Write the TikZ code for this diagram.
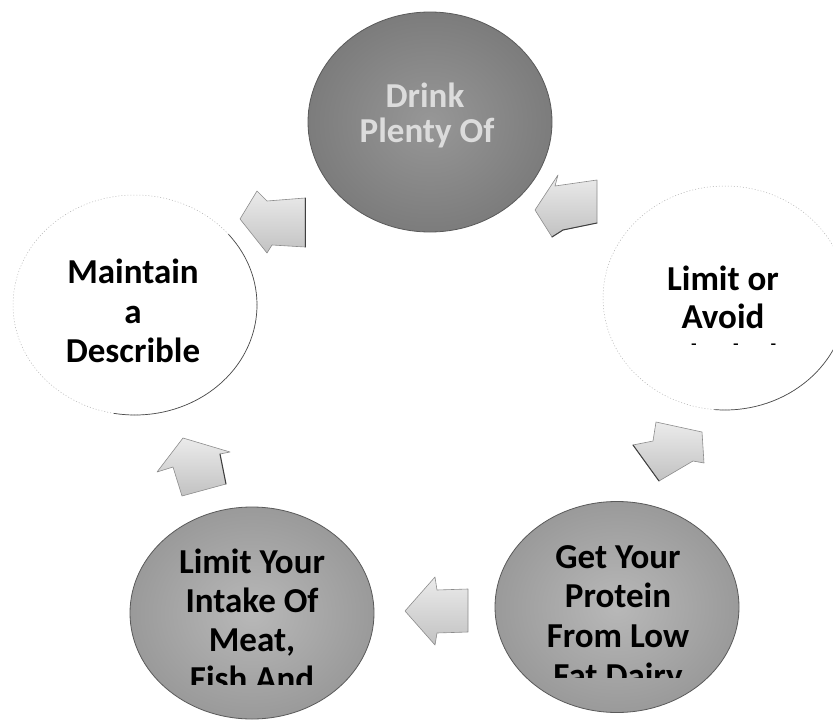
\documentclass[tikz,border=0pt]{standalone}
\usepackage{fontspec}
\setmainfont{Carlito}
\usetikzlibrary{shapes.geometric}
\definecolor{darkdiscin}{HTML}{979797}
\definecolor{darkdiscout}{HTML}{7C7C7C}
\definecolor{midiscin}{HTML}{B8B8B8}
\definecolor{midiscout}{HTML}{9A9A9A}
\definecolor{rimgray}{HTML}{5A5A5A}
\definecolor{arrowtop}{HTML}{EBEBEB}
\definecolor{arrowbot}{HTML}{C2C2C2}
\definecolor{arrowrim}{HTML}{8C8C8C}
\definecolor{lighttext}{HTML}{DCDCDC}
\begin{document}
\begin{tikzpicture}[x=1pt,y=-1pt,
  disc/.style={ellipse, inner sep=0pt, minimum width=244pt, minimum height=#1},
  darkdisc/.style={disc=#1, draw=rimgray, line width=0.8pt, shade, inner color=darkdiscin, outer color=darkdiscout},
  middisc/.style={disc=#1, draw=rimgray, line width=0.8pt, shade, inner color=midiscin, outer color=midiscout},
  whitedisc/.style={disc=#1, fill=white, draw=gray!60, line width=0.5pt, dash pattern=on 1pt off 2pt},
  rim/.style={draw=gray!60!black, line width=0.7pt},
  lbl/.style={anchor=base, inner sep=0pt, font=\fontsize{35}{40}\selectfont\bfseries},
  blockarrow/.style={draw=arrowrim, line width=0.6pt, line join=round, top color=arrowtop, bottom color=arrowbot},
  arrowedge/.style={draw=black!75, line width=1pt, line cap=round},
]
\useasboundingbox (0,0) rectangle (833,720);
\clip (0,0) rectangle (833,720);

% the five discs of the cycle
\node[darkdisc=220pt]  (drink)    at (430,122) {};
\node[whitedisc=224pt] (avoid)    at (725,298) {};
\node[whitedisc=220pt] (maintain) at (135,305) {};
\node[middisc=211pt]   (protein)  at (617,607) {};
\node[middisc=212pt]   (meat)     at (252,613) {};

% darker lower-right rims of the white discs
\draw[rim] (avoid.center) ++(-10:122 and 112) arc[start angle=-10, end angle=95, x radius=122, y radius=112];
\draw[rim] (maintain.center) ++(-40:122 and 110) arc[start angle=-40, end angle=100, x radius=122, y radius=110];

% block arrows between the discs, each with its shaded edge
\draw[blockarrow] (240,219) -- (257,191) -- (267,201) -- (305,198) -- (305,247) -- (272,245) -- (267,253) -- cycle;
\draw[arrowedge] (305,198) -- (305,247);
\draw[blockarrow] (535,210) -- (558,175) -- (555,186) -- (597,180) -- (597,223) -- (563,230) -- (552,237) -- cycle;
\draw[arrowedge] (597,223) -- (563,230) -- (552,237);
\draw[blockarrow] (656,422) -- (702,432) -- (704,463) -- (693,461) -- (659,481) -- (633,445) -- (653,441) -- cycle;
\draw[arrowedge] (633,445) -- (659,481);
\draw[blockarrow] (183,438) -- (230,452) -- (220,454) -- (226,484) -- (182,496) -- (173,467) -- (157,472) -- cycle;
\draw[arrowedge] (220,454) -- (226,484);
\draw[blockarrow] (405,611) -- (435,577) -- (437,590) -- (468,589) -- (468,632) -- (437,633) -- (435,645) -- cycle;

% texts
\node[lbl, text=lighttext] (drinkA) at (425,107) {Drink};
\node[lbl, text=lighttext] (drinkB) at (427,142) {Plenty Of};

\node[lbl] (avoidA) at (723,290) {Limit or};
\node[lbl] (avoidB) at (723,328) {Avoid};
\begin{scope}
  \clip (560,300) rectangle (833,344);
  \node[lbl] (avoidC) at (723,368) {Alcohol};
\end{scope}

\node[lbl] (maintainA) at (133,283) {Maintain};
\node[lbl] (maintainB) at (133,323) {a};
\node[lbl] (maintainC) at (133,362) {Describle};

\node[lbl] (proteinA) at (618,568) {Get Your};
\node[lbl] (proteinB) at (618,607) {Protein};
\node[lbl] (proteinC) at (618,647) {From Low};
\begin{scope}
  \clip (480,650) rectangle (760,677);
  \node[lbl] (proteinD) at (618,687) {Fat Dairy};
\end{scope}

\node[lbl] (meatA) at (252,573) {Limit Your};
\node[lbl] (meatB) at (252,612) {Intake Of};
\node[lbl] (meatC) at (252,651) {Meat,};
\begin{scope}
  \clip (120,655) rectangle (390,684);
  \node[lbl] (meatD) at (252,690) {Fish And};
\end{scope}
\end{tikzpicture}
\end{document}
